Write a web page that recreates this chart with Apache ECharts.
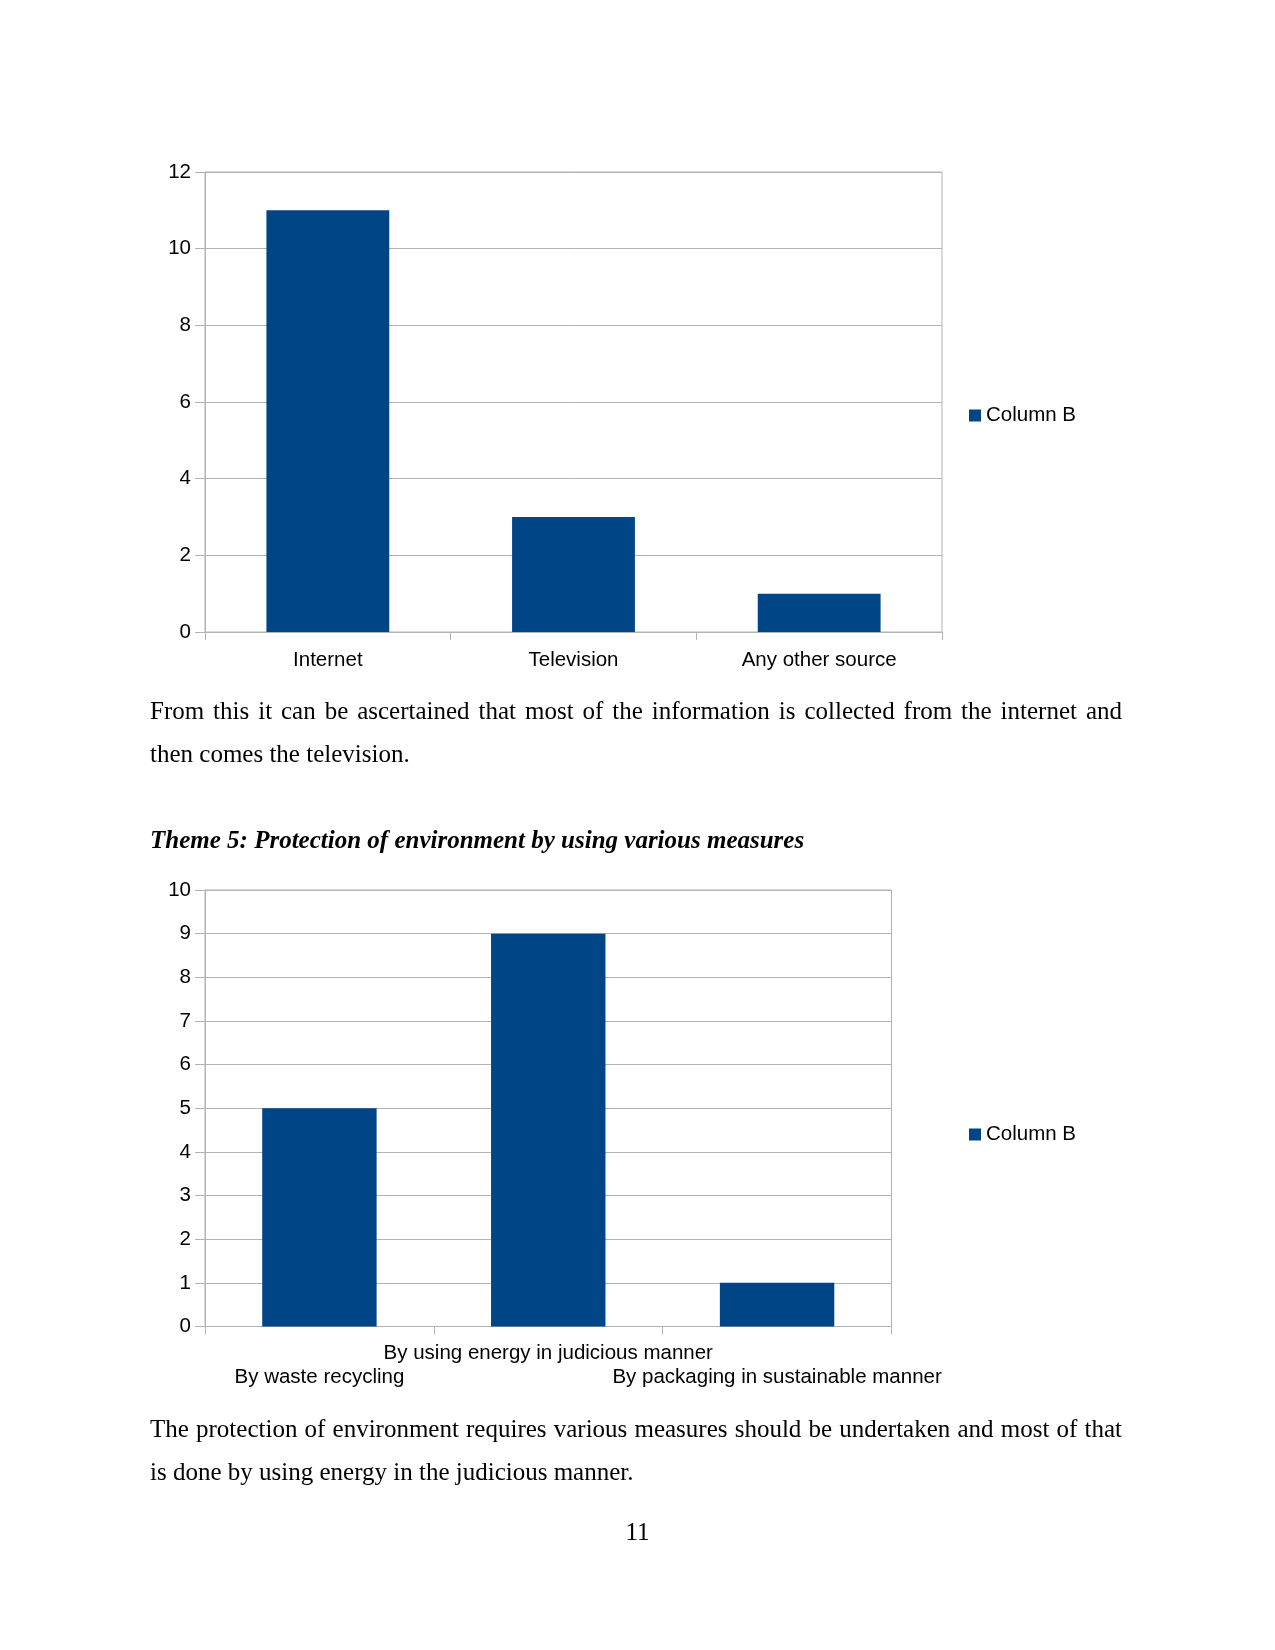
<!DOCTYPE html>
<html>
<head>
<meta charset="utf-8">
<script src="https://cdn.jsdelivr.net/npm/echarts@6/dist/echarts.min.js"></script>
<style>
  html, body { margin: 0; padding: 0; background: #fff; }
  #page { position: relative; width: 1275px; height: 1650px; background: #fff; overflow: hidden; }
  #chart { position: absolute; left: 0; top: 0; width: 1275px; height: 1650px; }
  .txt { position: absolute; left: 150px; width: 972px; font-family: "Liberation Serif", "Times New Roman", serif; font-size: 25px; line-height: 43px; color: #000; white-space: nowrap; }
  .just { text-align: justify; text-align-last: justify; }
  .head { font-weight: bold; font-style: italic; }
  .pnum { position: absolute; left: 0; width: 1275px; text-align: center; font-family: "Liberation Serif", serif; font-size: 25px; line-height: 43px; }
</style>
</head>
<body>
<div id="page">
  <div id="chart"></div>
  <div class="txt just" style="top:689px;">From this it can be ascertained that most of the information is collected from the internet and</div>
  <div class="txt" style="top:732px;">then comes the television.</div>
  <div class="txt head" style="top:818px;">Theme 5: Protection of environment by using various measures</div>
  <div class="txt just" style="top:1407px;">The protection of environment requires various measures should be undertaken and most of that</div>
  <div class="txt" style="top:1450px;">is done by using energy in the judicious manner.</div>
  <div class="pnum" style="top:1510px;">11</div>
</div>
<script>
const sourceCategories = ["Internet", "Television", "Any other source"];
const sourceValues = [11, 3, 1];
const measureCategories = ["By waste recycling", "By using energy in judicious manner", "By packaging in sustainable manner"];
const measureValues = [5, 9, 1];
const seriesName = "Column B";

const barColor = "#004586";
const gridColor = "#b3b3b3";
const labelFont = { fontFamily: "Liberation Sans, Arial, sans-serif", fontSize: 20.5, color: "#000" };

const chart = echarts.init(document.getElementById('chart'), null, { renderer: 'canvas' });

function yAxisCfg(gridIndex, max, interval) {
  return {
    type: 'value', gridIndex, min: 0, max, interval,
    axisLine: { show: true, lineStyle: { color: gridColor, width: 1 } },
    axisTick: { show: true, length: 10, lineStyle: { color: gridColor } },
    splitLine: { show: true, lineStyle: { color: gridColor, width: 1 } },
    axisLabel: Object.assign({ margin: 14 }, labelFont)
  };
}

chart.setOption({
  animation: false,
  backgroundColor: 'transparent',
  grid: [
    { left: 205, top: 172, width: 737, height: 460, show: true, borderColor: gridColor, borderWidth: 1, containLabel: false },
    { left: 205, top: 890, width: 686.5, height: 436.5, show: true, borderColor: gridColor, borderWidth: 1, containLabel: false }
  ],
  xAxis: [
    {
      type: 'category', gridIndex: 0, data: sourceCategories,
      axisLine: { show: true, lineStyle: { color: gridColor } },
      axisTick: { show: true, length: 8, lineStyle: { color: gridColor } },
      axisLabel: Object.assign({ margin: 18, interval: 0 }, labelFont)
    },
    {
      type: 'category', gridIndex: 1, data: measureCategories,
      axisLine: { show: true, lineStyle: { color: gridColor } },
      axisTick: { show: true, length: 8, lineStyle: { color: gridColor } },
      axisLabel: Object.assign({
        margin: 15, interval: 0, hideOverlap: false, lineHeight: 24,
        formatter: (v, i) => (i % 2 === 1 ? v : '\n' + v)
      }, labelFont)
    }
  ],
  yAxis: [yAxisCfg(0, 12, 2), yAxisCfg(1, 10, 1)],
  legend: [
    {
      left: 969, top: 405, padding: 0, orient: 'vertical', itemWidth: 12, itemHeight: 12, itemGap: 6,
      icon: 'rect', data: [seriesName], selectedMode: false,
      textStyle: labelFont
    },
    {
      left: 969, top: 1124, padding: 0, orient: 'vertical', itemWidth: 12, itemHeight: 12, itemGap: 6,
      icon: 'rect', data: [seriesName], selectedMode: false,
      textStyle: labelFont
    }
  ],
  series: [
    { name: seriesName, type: 'bar', xAxisIndex: 0, yAxisIndex: 0, data: sourceValues, barWidth: '50%', itemStyle: { color: barColor } },
    { name: seriesName, type: 'bar', xAxisIndex: 1, yAxisIndex: 1, data: measureValues, barWidth: '50%', itemStyle: { color: barColor } }
  ]
});
</script>
</body>
</html>
